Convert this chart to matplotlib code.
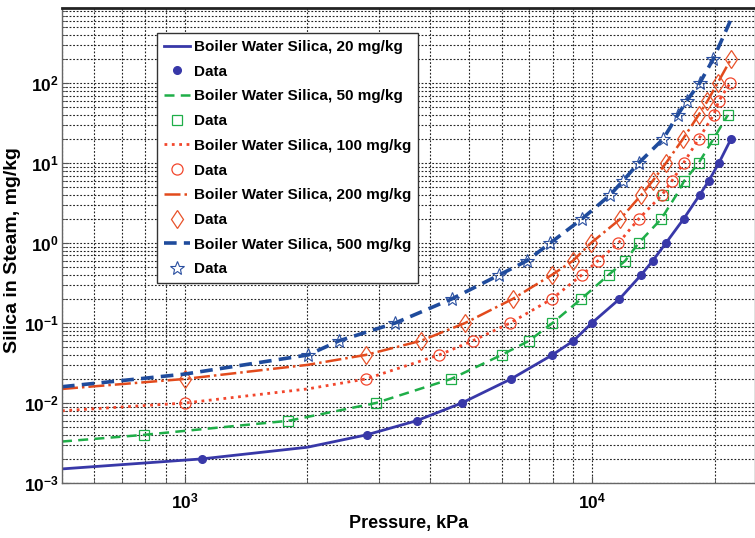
#!/usr/bin/env python

import matplotlib
matplotlib.use("Agg")
import matplotlib.pyplot as plt
from matplotlib.ticker import LogLocator, NullFormatter

plt.rcParams['font.family'] = ['Liberation Sans', 'DejaVu Sans']

# ---- data (pressure kPa, silica in steam mg/kg) ----
# 20 mg/kg boiler water
p20_data = [1100, 2795, 3707, 4786, 6324, 7989, 8995, 9980, 11670, 13190,
            14080, 15170, 16760, 18360, 19330, 20460, 21910]
s20_data = [0.002, 0.004, 0.006, 0.01, 0.02, 0.04, 0.06, 0.1, 0.2, 0.4,
            0.6, 1, 2, 4, 6, 10, 20]
p20_line = [500, 1100, 2000, 2795, 3707, 4786, 6324, 7989, 8995, 9980, 11670,
            13190, 14080, 15170, 16760, 18360, 19330, 20460, 21910]
s20_line = [0.0015, 0.002, 0.0028, 0.004, 0.006, 0.01, 0.02, 0.04, 0.06, 0.1,
            0.2, 0.4, 0.6, 1, 2, 4, 6, 10, 20]

# 50 mg/kg boiler water
p50_data = [794, 1798, 2944, 4505, 5998, 7000, 7989, 9400, 10970, 12050,
            13000, 14770, 14900, 16820, 18250, 19840, 21530]
s50_data = [0.004, 0.006, 0.01, 0.02, 0.04, 0.06, 0.1, 0.2, 0.4, 0.6,
            1, 2, 4, 6, 10, 20, 40]
p50_line = [500, 794, 1798, 2944, 4505, 5998, 7000, 7989, 9400, 10970, 12050,
            13000, 14770, 16100, 16820, 18250, 19840, 21530]
s50_line = [0.0033, 0.004, 0.006, 0.01, 0.02, 0.04, 0.06, 0.1, 0.2, 0.4, 0.6,
            1, 2, 4, 6, 10, 20, 40]

# 100 mg/kg boiler water
p100_data = [1000, 2785, 4217, 5091, 6288, 7962, 9434, 10330, 11600, 13000,
             14840, 15700, 16760, 18250, 19860, 20460, 21800]
s100_data = [0.01, 0.02, 0.04, 0.06, 0.1, 0.2, 0.4, 0.6, 1, 2,
             4, 6, 10, 20, 40, 60, 100]
p100_line = [500, 1000, 2000, 2785, 4217, 5091, 6288, 7962, 9434, 10330, 11600,
             13000, 14840, 15700, 16760, 18250, 19860, 20460, 21800]
s100_line = [0.008, 0.01, 0.015, 0.02, 0.04, 0.06, 0.1, 0.2, 0.4, 0.6, 1,
             2, 4, 6, 10, 20, 40, 60, 100]

# 200 mg/kg boiler water
p200_data = [1000, 2785, 3800, 4875, 6380, 7962, 8968, 9930, 11720, 13200,
             14080, 15170, 16700, 18250, 19190, 20310, 21910]
s200_data = [0.02, 0.04, 0.06, 0.1, 0.2, 0.4, 0.6, 1, 2, 4,
             6, 10, 20, 40, 60, 100, 200]
p200_line = [500, 1000, 2000, 2785, 3800, 4875, 6380, 7962, 8968, 9930, 11720,
             13200, 14080, 15170, 16700, 18250, 19190, 20310, 21910]
s200_line = [0.015, 0.02, 0.03, 0.04, 0.06, 0.1, 0.2, 0.4, 0.6, 1, 2,
             4, 6, 10, 20, 40, 60, 100, 200]

# 500 mg/kg boiler water
p500_data = [2010, 2393, 3283, 4520, 5916, 6912, 7887, 9434, 11070, 11900,
             13000, 14930, 16220, 17060, 18360, 19820]
s500_data = [0.04, 0.06, 0.1, 0.2, 0.4, 0.6, 1, 2, 4, 6,
             10, 20, 40, 60, 100, 200]
p500_line = [500, 1000, 2010, 2393, 3283, 4520, 5916, 6912, 7887, 9434, 11070,
             11900, 13000, 14930, 16220, 17060, 18360, 19820, 21830]
s500_line = [0.016, 0.023, 0.04, 0.06, 0.1, 0.2, 0.4, 0.6, 1, 2, 4,
             6, 10, 20, 40, 60, 100, 200, 600]

labels = ["Boiler Water Silica, 20 mg/kg", "Boiler Water Silica, 50 mg/kg",
          "Boiler Water Silica, 100 mg/kg", "Boiler Water Silica, 200 mg/kg",
          "Boiler Water Silica, 500 mg/kg"]


def main():
    fig = plt.figure(figsize=(7.55, 5.38), dpi=100)
    ax = fig.add_axes([62 / 755, 55 / 538, 693 / 755, 475 / 538])

    # 20 mg/kg
    ax.plot(p20_line, s20_line, '-', color='#3838a8', lw=2.0, label=labels[0])
    ax.plot(p20_data, s20_data, 'o', color='#3838a8', ms=5.5, ls='none', label='Data')
    # 50 mg/kg
    ax.plot(p50_line, s50_line, '--', color='#1fae48', lw=1.8, dashes=(4, 2.5), label=labels[1])
    ax.plot(p50_data, s50_data, 's', mfc='none', mec='#1fae48', ms=7, mew=0.9, ls='none', label='Data')
    # 100 mg/kg
    ax.plot(p100_line, s100_line, ':', color='#f2462c', lw=2.0, label=labels[2])
    ax.plot(p100_data, s100_data, 'o', mfc='none', mec='#f2462c', ms=8, mew=0.9, ls='none', label='Data')
    # 200 mg/kg
    ax.plot(p200_line, s200_line, '-.', color='#e24a1c', lw=1.8, label=labels[3])
    ax.plot(p200_data, s200_data, 'd', mfc='none', mec='#e8522a', ms=9.5, mew=0.9, ls='none', label='Data')
    # 500 mg/kg
    ax.plot(p500_line, s500_line, '--', color='#1f4b9c', lw=2.6, dashes=(3.5, 2), label=labels[4])
    ax.plot(p500_data, s500_data, '*', mfc='none', mec='#2a4fa0', ms=10, mew=0.8, ls='none', label='Data')

    ax.set_xscale('log')
    ax.set_yscale('log')
    ax.set_xlim(500, 25100)
    ax.set_ylim(1e-3, 10 ** 2.94)

    ax.xaxis.set_major_locator(LogLocator(base=10))
    ax.xaxis.set_minor_locator(LogLocator(base=10, subs=range(2, 10)))
    ax.yaxis.set_major_locator(LogLocator(base=10))
    ax.yaxis.set_minor_locator(LogLocator(base=10, subs=range(2, 10)))
    ax.xaxis.set_minor_formatter(NullFormatter())
    ax.yaxis.set_minor_formatter(NullFormatter())

    ax.grid(True, which='both', color='#222222', ls=(0, (1.6, 1.6)), lw=0.8)
    ax.tick_params(which='both', direction='in', color='#555555')
    ax.tick_params(which='major', length=5, labelsize=12.5)
    ax.tick_params(axis='x', which='major', pad=6)
    ax.tick_params(axis='y', which='major', pad=2)
    ax.tick_params(which='minor', length=3)
    for lab in ax.get_xticklabels() + ax.get_yticklabels():
        lab.set_fontweight('bold')

    for side in ('left', 'bottom', 'right'):
        ax.spines[side].set_color('#666666')
        ax.spines[side].set_linewidth(1.0)
    ax.spines['top'].set_color('#222222')
    ax.spines['top'].set_linewidth(2.0)

    ax.set_xlabel("Pressure, kPa", fontsize=13, fontweight='bold', labelpad=3)
    ax.set_ylabel("Silica in Steam, mg/kg", fontsize=14, fontweight='bold')
    ax.yaxis.set_label_coords(-0.059, 0.49)

    leg = ax.legend(loc='upper left', bbox_to_anchor=(0.137, 0.947), borderaxespad=0,
                    fancybox=False, framealpha=1, edgecolor='#333333',
                    prop={'weight': 'bold', 'size': 11}, handlelength=1.7,
                    handletextpad=0.3, labelspacing=0.7, borderpad=0.45)
    leg.get_frame().set_linewidth(1.0)

    fig.savefig("out.png", dpi=100)


if __name__ == '__main__':
    main()
